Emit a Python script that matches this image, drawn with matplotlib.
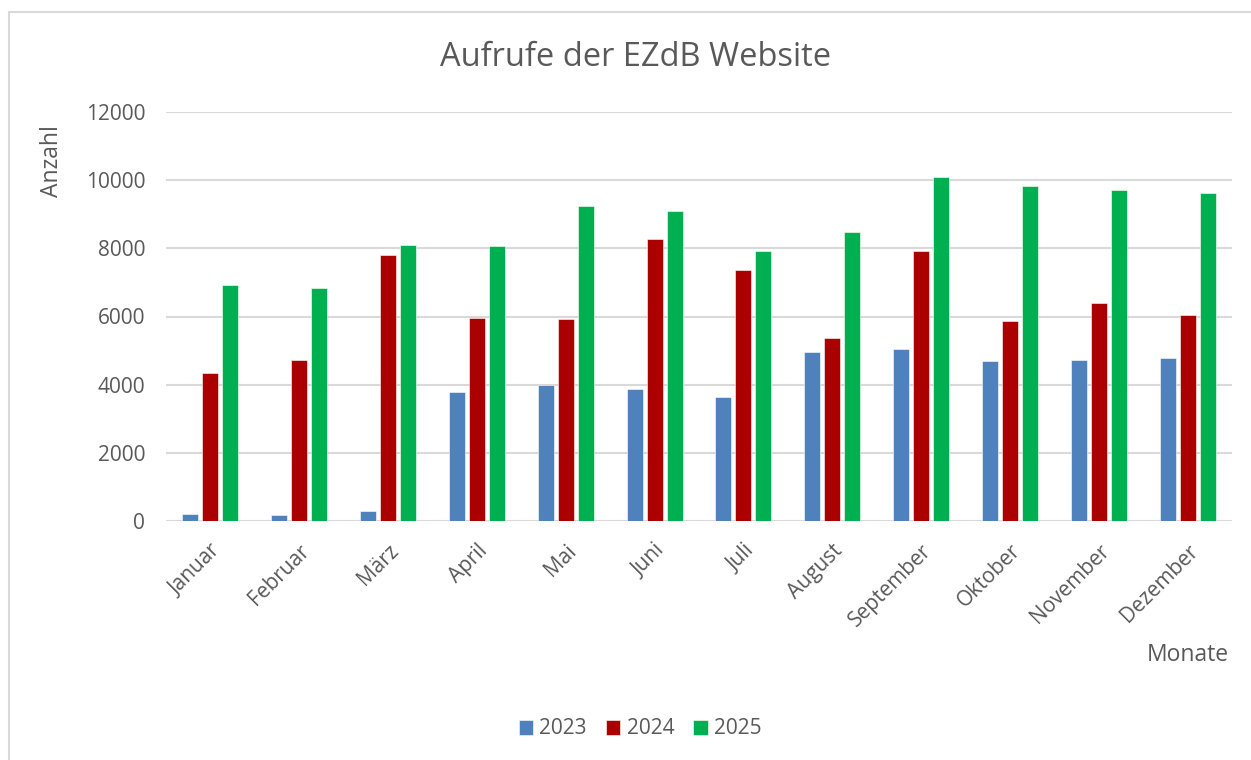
import numpy as np
import matplotlib.pyplot as plt
from matplotlib.patches import Rectangle

plt.rcParams['font.family'] = ['Open Sans', 'DejaVu Sans']

monate = ['Januar', 'Februar', 'März', 'April', 'Mai', 'Juni', 'Juli',
          'August', 'September', 'Oktober', 'November', 'Dezember']
jahre = ['2023', '2024', '2025']
werte_2023 = [220, 190, 300, 3780, 3990, 3870, 3640, 4960, 5050, 4690, 4720, 4790]
werte_2024 = [4340, 4720, 7800, 5960, 5930, 8270, 7360, 5370, 7920, 5870, 6390, 6040]
werte_2025 = [6920, 6840, 8100, 8070, 9240, 9090, 7920, 8480, 10090, 9830, 9710, 9620]
farben = ['#4F81BD', '#AA0000', '#00B050']

fig = plt.figure(figsize=(12.51, 7.60), dpi=100)
# chart frame like in Excel
fig.patches.append(Rectangle((9/1251, -0.01), 1.0, 1 - 12/760 + 0.01,
                             transform=fig.transFigure, fill=False,
                             edgecolor='#d9d9d9', linewidth=1.5))

ax = fig.add_axes([166/1251, 1 - 521/760, (1232 - 166)/1251, (521 - 112)/760])

x = np.arange(len(monate))
breite = 0.18
abstand = 0.225
for i, (werte, farbe, jahr) in enumerate(zip([werte_2023, werte_2024, werte_2025], farben, jahre)):
    ax.bar(x + (i - 1) * abstand, werte, width=breite, color=farbe, label=jahr,
           edgecolor='white', linewidth=0.4, zorder=3)

ax.set_xlim(-0.5, 11.5)
ax.set_ylim(0, 12000)
ax.set_yticks(np.arange(0, 12001, 2000))
ax.grid(axis='y', color='#d9d9d9', linewidth=1.5, zorder=0)
for s in ax.spines.values():
    s.set_visible(False)
ax.axhline(0, color='#d9d9d9', linewidth=1.8, zorder=2)
ax.tick_params(length=0, labelsize=15, colors='#595959')
ax.tick_params(axis='y', pad=15)
ax.set_xticks(x)
ax.set_xticklabels(monate, rotation=45, ha='right', rotation_mode='anchor')
ax.tick_params(axis='x', pad=14)

fig.text(636/1251, 1 - 57/760, 'Aufrufe der EZdB Website', ha='center', va='center',
         fontsize=23.5, color='#595959')
fig.text(52/1251, 1 - 161/760, 'Anzahl', ha='center', va='center', rotation=90,
         fontsize=16.5, color='#595959')
fig.text(1188/1251, 1 - 655/760, 'Monate', ha='center', va='center',
         fontsize=16.5, color='#595959')

fig.legend(loc='center', bbox_to_anchor=(640/1251, 1 - 729/760), ncol=3, frameon=False,
           fontsize=15, labelcolor='#595959', handlelength=0.7, handleheight=0.7,
           handletextpad=0.3, columnspacing=0.9)

fig.savefig('out.png', dpi=100, facecolor='white')
